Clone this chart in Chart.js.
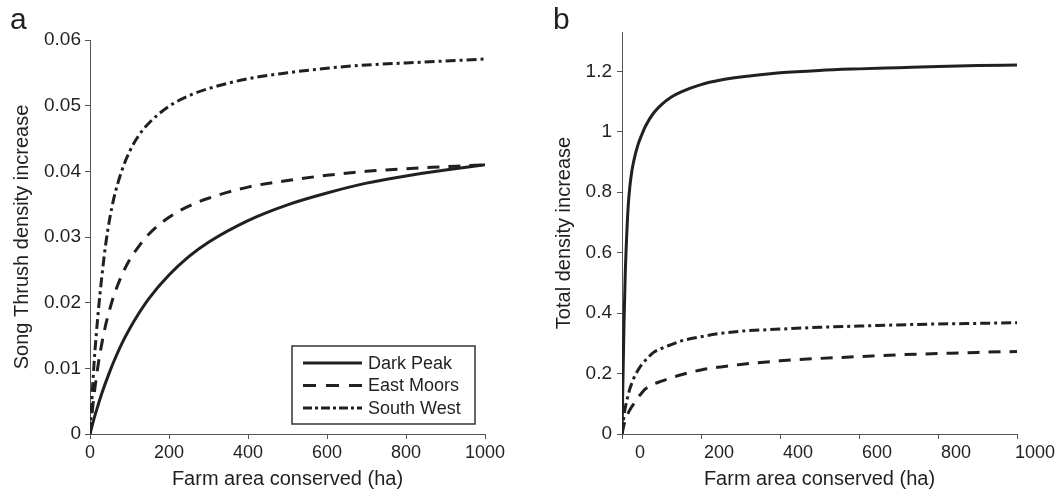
<!DOCTYPE html>
<html><head><meta charset="utf-8">
<script src="https://cdn.jsdelivr.net/npm/chart.js@4.4.0/dist/chart.umd.min.js"></script>
<style>
html,body{margin:0;padding:0;background:#fff;}
#wrap{position:relative;width:1057px;height:494px;overflow:hidden;background:#fff;}
canvas{position:absolute;top:0;}
#ca{left:0;} #cb{left:528px;}
.lab{position:absolute;font-family:'Liberation Sans',Arial,sans-serif;font-size:30px;color:#231f20;line-height:30px;}
</style></head><body>
<div id="wrap">
<canvas id="ca" width="520" height="494"></canvas>
<canvas id="cb" width="529" height="494"></canvas>
<div class="lab" style="left:10px;top:4px">a</div>
<div class="lab" style="left:553px;top:4px">b</div>
</div>
<script>
// ---- data ----
const seriesNames = ['Dark Peak', 'East Moors', 'South West'];
const xTitle = 'Farm area conserved (ha)';
const yTitleA = 'Song Thrush density increase';
const yTitleB = 'Total density increase';

const xA = [0,10,20,30,40,50,60,80,100,125,150,200,250,300,400,500,600,700,800,900,1000];
const darkPeakA  = [0,0.0023,0.0043,0.0062,0.0079,0.0095,0.0110,0.0137,0.0160,0.0185,0.0207,0.0242,0.0270,0.0292,0.0325,0.0349,0.0367,0.0382,0.0393,0.0402,0.0410];
const eastMoorsA = [0,0.0058,0.0103,0.0138,0.0167,0.0190,0.0210,0.0241,0.0265,0.0287,0.0305,0.0330,0.0347,0.0359,0.0376,0.0386,0.0394,0.0400,0.0404,0.0407,0.0410];
const southWestA = [0,0.0105,0.0180,0.0240,0.0290,0.0328,0.0358,0.0400,0.0430,0.0456,0.0474,0.0499,0.0515,0.0526,0.0541,0.0550,0.0557,0.0562,0.0565,0.0568,0.0571];

const xB = [0,2,5,8,12,16,20,25,30,40,50,60,80,100,125,150,200,250,300,400,500,600,700,800,900,1000];
const darkPeakB  = [0,0.15,0.36,0.52,0.66,0.76,0.82,0.87,0.905,0.955,0.99,1.02,1.062,1.09,1.115,1.132,1.156,1.171,1.181,1.195,1.203,1.208,1.212,1.216,1.219,1.221];
const eastMoorsB = [0,0.012,0.03,0.043,0.058,0.07,0.08,0.091,0.1,0.12,0.136,0.15,0.165,0.175,0.186,0.196,0.212,0.222,0.230,0.242,0.250,0.256,0.262,0.266,0.270,0.273];
const southWestB = [0,0.025,0.06,0.085,0.11,0.13,0.15,0.168,0.185,0.21,0.23,0.245,0.27,0.283,0.296,0.308,0.322,0.333,0.340,0.347,0.353,0.357,0.361,0.364,0.366,0.368];

const xTicks = [0,200,400,600,800,1000];
const yTicksA = [0,0.01,0.02,0.03,0.04,0.05,0.06];
const yTicksB = [0,0.2,0.4,0.6,0.8,1,1.2];

// ---- styles ----
const INK = '#231f20';
const AXIS = '#555555';
const FONT = "'Liberation Sans', Arial, sans-serif";
const dashes = [[], [12, 9], [10, 4, 3, 4]];

function pts(xs, ys) { return xs.map((x, i) => ({x: x, y: ys[i]})); }
function makeSets(xs, arrs) {
  return arrs.map((a, i) => ({
    label: seriesNames[i],
    data: pts(xs, a),
    borderColor: INK,
    borderWidth: 3,
    borderDash: dashes[i],
    pointRadius: 0,
    fill: false,
    cubicInterpolationMode: 'monotone'
  }));
}

const boxLegend = {
  id: 'boxLegend',
  afterDraw(chart) {
    const ctx = chart.ctx, ca = chart.chartArea;
    const right = ca.right - 10, bottom = ca.bottom - 10;
    const w = 183, h = 78, left = right - w, top = bottom - h;
    ctx.save();
    ctx.strokeStyle = '#333';
    ctx.lineWidth = 1.5;
    ctx.setLineDash([]);
    ctx.strokeRect(left, top, w, h);
    ctx.font = '18px ' + FONT;
    ctx.fillStyle = INK;
    ctx.textBaseline = 'middle';
    chart.data.datasets.forEach((ds, i) => {
      const y = top + 17 + i * 22.5;
      ctx.beginPath();
      ctx.strokeStyle = INK;
      ctx.lineWidth = 3;
      ctx.setLineDash(i === 2 ? [9, 3, 3, 3] : (i === 1 ? [13, 10] : []));
      ctx.moveTo(left + 11, y);
      ctx.lineTo(left + 70, y);
      ctx.stroke();
      ctx.setLineDash([]);
      ctx.fillText(ds.label, left + 76, y + 1);
    });
    ctx.restore();
  }
};

function makeChart(id, xs, arrs, yMax, yTicks, yTitle, opt) {
  return new Chart(document.getElementById(id), {
    type: 'line',
    data: { datasets: makeSets(xs, arrs) },
    plugins: opt.legend ? [boxLegend] : [],
    options: {
      responsive: false,
      animation: false,
      layout: { padding: { top: opt.top, right: opt.right, left: 0, bottom: 0 } },
      plugins: { legend: { display: false }, tooltip: { enabled: false } },
      scales: {
        x: {
          type: 'linear', min: 0, max: 1000,
          afterBuildTicks: s => { s.ticks = xTicks.map(v => ({value: v})); },
          afterFit: s => { s.height = 60; },
          border: { color: AXIS, width: 1 },
          grid: { drawOnChartArea: false, drawTicks: true, tickLength: 5, color: AXIS },
          ticks: { color: INK, font: { family: FONT, size: 18 }, padding: 3, labelOffset: opt.labelOffset, maxRotation: 0,
                   callback: v => String(v) },
          title: { display: true, text: xTitle, color: INK, font: { family: FONT, size: 20 }, padding: { top: 3, bottom: 3 } }
        },
        y: {
          type: 'linear', min: 0, max: yMax,
          afterBuildTicks: s => { s.ticks = yTicks.map(v => ({value: v})); },
          afterFit: s => { s.width = opt.yWidth; },
          border: { color: AXIS, width: 1 },
          grid: { drawOnChartArea: false, drawTicks: true, tickLength: 5, color: AXIS },
          ticks: { color: INK, font: { family: FONT, size: 19 }, padding: opt.yPad,
                   callback: v => String(+(+v).toFixed(3)) },
          title: { display: true, text: yTitle, color: INK, font: { family: FONT, size: 20 }, padding: { top: opt.yTitlePad, bottom: opt.yTitlePad } }
        }
      }
    }
  });
}

makeChart('ca', xA, [darkPeakA, eastMoorsA, southWestA], 0.06, yTicksA, yTitleA,
  { top: 40, right: 35, yWidth: 90, yPad: 4, yTitlePad: 10, labelOffset: 0, legend: true });
makeChart('cb', xB, [darkPeakB, eastMoorsB, southWestB], 1.33, yTicksB, yTitleB,
  { top: 32, right: 40, yWidth: 94, yPad: 5, yTitlePad: 24, labelOffset: 18, legend: false });
</script>
</body></html>
